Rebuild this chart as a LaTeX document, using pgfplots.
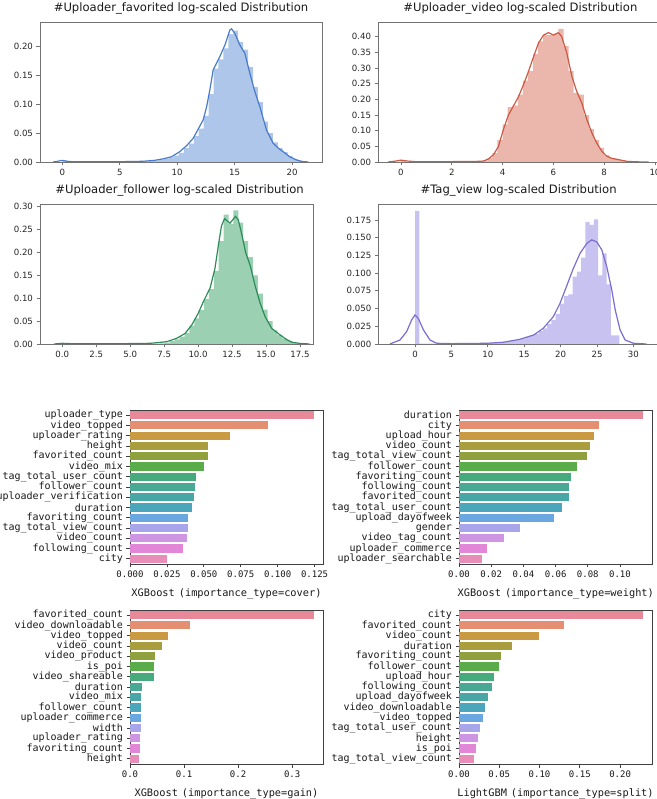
\documentclass[border=0pt]{standalone}
\usepackage{pgfplots}
\pgfplotsset{compat=1.18}
\usepackage{fontspec}
\setmainfont{DejaVu Sans}
\setmonofont{DejaVu Sans Mono}
\definecolor{c1}{HTML}{E8899A}
\definecolor{c2}{HTML}{E48F72}
\definecolor{c3}{HTML}{C99A42}
\definecolor{c4}{HTML}{A99D3D}
\definecolor{c5}{HTML}{8FA03C}
\definecolor{c6}{HTML}{5AAC4A}
\definecolor{c7}{HTML}{47AA7C}
\definecolor{c8}{HTML}{49A894}
\definecolor{c9}{HTML}{49A6A6}
\definecolor{c10}{HTML}{4BA5BB}
\definecolor{c11}{HTML}{6AA6E0}
\definecolor{c12}{HTML}{A8A5EA}
\definecolor{c13}{HTML}{CD95E2}
\definecolor{c14}{HTML}{E286D8}
\definecolor{c15}{HTML}{E78DB8}
\definecolor{f1}{HTML}{AEC6EA}\definecolor{l1}{HTML}{4A7BC8}
\definecolor{f2}{HTML}{EBB7AC}\definecolor{l2}{HTML}{CB5A45}
\definecolor{f3}{HTML}{9BD1B2}\definecolor{l3}{HTML}{2C8C58}
\definecolor{f4}{HTML}{C8C2F0}\definecolor{l4}{HTML}{7A6ED0}
\newcommand{\B}[3]{\addplot[xbar, bar shift=0pt, bar width=8.2pt, fill=#1, draw=none] coordinates {(#2,#3)};}
\pgfplotsset{
  every axis/.append style={/pgf/number format/assume math mode=true},
  dist/.style={
    scale only axis, height=140pt, ymin=0,
    axis line style={black!55, line width=0.8pt},
    tick style={black!55, line width=0.8pt},
    tick align=outside, major tick length=3.5pt,
    xtick pos=bottom, ytick pos=left,
    ticklabel style={font=\fontsize{8.6}{10}\selectfont, text=black!85},
    title style={font=\fontsize{11.6}{13}\selectfont, anchor=base, yshift=4.5pt, text=black!90},
    scaled y ticks=false, scaled x ticks=false,
  },
  hist/.style={ybar interval, draw=none, fill=#1},
  kde/.style={no marks, line width=1.2pt, color=#1},
  hbar/.style={
    scale only axis, height=154pt, xmin=0, ymin=-0.5, ymax=14.5,
    ytick={0,...,14},
    axis line style={black!75, line width=0.8pt},
    tick style={black!75, line width=0.8pt},
    tick align=outside, major tick length=3.5pt,
    xtick pos=bottom, ytick pos=left,
    y tick label style={font=\ttfamily\fontsize{10}{10}\selectfont, text=black!90},
    x tick label style={font=\ttfamily\fontsize{9}{10}\selectfont, text=black!90},
    xlabel style={font=\ttfamily\fontsize{10.3}{10}\selectfont, text=black!90, at={(axis description cs:0.5,0)}, anchor=base, yshift=-32.5pt},
    scaled x ticks=false,
  },
}
\begin{document}
\begin{tikzpicture}
\path[use as bounding box] (0pt,0pt) rectangle (656pt,799pt);
% ---------- P1 ----------
\begin{axis}[dist, at={(40pt,637pt)}, anchor=south west, width=282pt,
  xmin=-1.94, xmax=22.6, ymax=0.243,
  xtick={0,5,...,20}, ytick={0,0.05,...,0.2},
  y tick label style={/pgf/number format/.cd, fixed, fixed zerofill, precision=2},
  title={\#Uploader\_favorited log-scaled Distribution}]
\addplot[hist=f1] table {
0 0.003
0.43 0.0005
7.14 0.0012
7.57 0.002
8.00 0.003
8.43 0.004
8.86 0.006
9.29 0.008
9.72 0.011
10.15 0.016
10.58 0.024
11.01 0.032
11.44 0.045
11.87 0.058
12.30 0.08
12.73 0.118
13.16 0.162
13.59 0.178
14.02 0.197
14.45 0.222
14.88 0.228
15.31 0.208
15.74 0.195
16.17 0.165
16.60 0.13
17.03 0.104
17.46 0.07
17.89 0.05
18.32 0.034
18.75 0.024
19.18 0.017
19.61 0.01
20.04 0.005
20.47 0.002
20.90 0.0005
21.33 0
};
\addplot[kde=l1] coordinates {
(-0.8,0) (-0.4,0.0012) (0,0.0028) (0.4,0.0012) (1,0.0004) (3,0.0004) (5,0.0005) (7,0.0012) (8,0.0028) (8.8,0.0055) (9.5,0.009) (10.23,0.018) (10.8,0.028) (11.39,0.041) (12.26,0.073) (12.55,0.095) (12.84,0.125) (13.13,0.16) (13.71,0.183) (14.15,0.203) (14.58,0.229) (14.73,0.231) (15.02,0.223) (15.45,0.203) (15.89,0.1885) (16.32,0.154) (16.76,0.122) (17.19,0.096) (17.77,0.0555) (18.35,0.0324) (18.8,0.024) (19.22,0.0179) (19.8,0.009) (20.38,0.0035) (20.9,0.0008) (21.4,0)
};
\end{axis}
% ---------- P2 ----------
\begin{axis}[dist, at={(378.1pt,637pt)}, anchor=south west, width=284.5pt,
  xmin=-0.9, xmax=10.3, ymax=0.447,
  xtick={0,2,...,10}, ytick={0,0.05,...,0.4},
  y tick label style={/pgf/number format/.cd, fixed, fixed zerofill, precision=2},
  title={\#Uploader\_video log-scaled Distribution}]
\addplot[hist=f2] table {
0 0.006
0.19 0.0005
3.0 0.002
3.2 0.004
3.4 0.012
3.6 0.028
3.8 0.07
4.0 0.12
4.2 0.175
4.4 0.18
4.6 0.215
4.8 0.26
5.0 0.29
5.2 0.345
5.4 0.385
5.6 0.405
5.8 0.405
6.0 0.41
6.2 0.425
6.4 0.37
6.6 0.29
6.8 0.22
7.0 0.215
7.2 0.15
7.4 0.105
7.6 0.07
7.8 0.045
8.0 0.022
8.2 0.012
8.4 0.01
8.6 0.005
8.8 0.002
9.0 0
};
\addplot[kde=l2] coordinates {
(-0.5,0) (-0.2,0.003) (0,0.006) (0.25,0.003) (0.6,0.001) (1.5,0.0008) (3,0.002) (3.25,0.003) (3.44,0.0095) (3.64,0.023) (3.84,0.05) (4.03,0.103) (4.23,0.15) (4.43,0.179) (4.63,0.209) (4.82,0.246) (5.02,0.289) (5.22,0.336) (5.41,0.379) (5.61,0.405) (5.81,0.413) (6.0,0.405) (6.2,0.413) (6.33,0.4) (6.53,0.347) (6.73,0.273) (6.92,0.225) (7.12,0.188) (7.32,0.135) (7.52,0.092) (7.71,0.06) (7.91,0.034) (8.11,0.018) (8.3,0.0117) (8.57,0.0074) (8.9,0.002) (9.3,0.0005) (9.75,0)
};
\end{axis}
% ---------- P3 ----------
\begin{axis}[dist, at={(40pt,455pt)}, anchor=south west, width=273pt,
  xmin=-1.64, xmax=18.46, ymax=0.306,
  xtick={0,2.5,...,17.5}, ytick={0,0.05,...,0.3},
  x tick label style={/pgf/number format/.cd, fixed, fixed zerofill, precision=1},
  y tick label style={/pgf/number format/.cd, fixed, fixed zerofill, precision=2},
  title style={xshift=3pt},
  title={\#Uploader\_follower log-scaled Distribution}]
\addplot[hist=f3] table {
0 0.0015
0.36 0.0004
6.84 0.001
7.2 0.0015
7.56 0.003
7.92 0.006
8.28 0.01
8.64 0.016
9.00 0.024
9.36 0.04
9.72 0.056
10.08 0.074
10.44 0.098
10.80 0.12
11.16 0.16
11.52 0.225
11.88 0.283
12.24 0.262
12.60 0.292
12.96 0.265
13.32 0.225
13.68 0.19
14.04 0.15
14.40 0.11
14.76 0.075
15.12 0.05
15.48 0.03
15.84 0.02
16.20 0.012
16.56 0.006
16.92 0.002
17.28 0.001
17.64 0
};
\addplot[kde=l3] coordinates {
(-0.6,0) (-0.2,0.001) (0,0.0015) (0.3,0.001) (1,0.0005) (4,0.0005) (6.5,0.0015) (7.69,0.005) (8.42,0.0124) (9.04,0.023) (9.53,0.0415) (10.01,0.067) (10.38,0.092) (10.88,0.122) (11.24,0.165) (11.49,0.215) (11.72,0.258) (11.95,0.274) (12.35,0.264) (12.75,0.279) (12.95,0.272) (13.2,0.242) (13.5,0.2) (13.85,0.17) (14.2,0.127) (14.56,0.09) (14.93,0.06) (15.42,0.034) (16.03,0.02) (16.5,0.01) (16.9,0.004) (17.5,0.0012) (18.2,0)
};
\end{axis}
% ---------- P4 ----------
\begin{axis}[dist, at={(378.3pt,455pt)}, anchor=south west, width=280.6pt,
  xmin=-5.04, xmax=33.5, ymax=0.1976,
  xtick={0,5,...,30}, ytick={0,0.025,...,0.175},
  y tick label style={/pgf/number format/.cd, fixed, fixed zerofill, precision=3},
  title={\#Tag\_view log-scaled Distribution}]
\addplot[hist=f4] table {
0 0.188
0.585 0.0004
5.85 0.0008
9.36 0.0015
11.7 0.003
12.87 0.004
13.455 0.005
14.04 0.006
14.625 0.008
15.21 0.01
15.795 0.012
16.38 0.014
16.965 0.018
17.55 0.022
18.135 0.028
18.72 0.034
19.305 0.042
19.89 0.057
20.475 0.068
21.06 0.07
21.645 0.095
22.23 0.102
22.815 0.122
23.4 0.172
23.985 0.168
24.57 0.176
25.155 0.097
25.74 0.128
26.325 0.084
26.91 0.012
27.495 0.012
28.08 0
};
\addplot[kde=l4] coordinates {
(-3.44,0) (-2.06,0.0056) (-1.15,0.0174) (-0.46,0.034) (0,0.041) (0.46,0.036) (1.15,0.02) (2.06,0.0056) (2.98,0.001) (5,0.0005) (9.85,0.001) (12.1,0.0024) (14.4,0.0066) (16.3,0.0127) (17.6,0.022) (19.0,0.0386) (19.9,0.057) (20.8,0.081) (21.76,0.107) (22.67,0.128) (23.6,0.142) (24.28,0.147) (24.97,0.144) (25.65,0.133) (26.34,0.109) (27.03,0.076) (27.5,0.048) (28.17,0.0198) (28.86,0.0056) (30,0.001) (31.8,0)
};
\end{axis}
% ---------- P5 cover ----------
\begin{axis}[hbar, at={(130pt,235pt)}, anchor=south west, width=193pt,
  xmax=0.1307, xtick={0,0.025,...,0.125},
  x tick label style={/pgf/number format/.cd, fixed, fixed zerofill, precision=3},
  yticklabels={city, following\_count, video\_count, tag\_total\_view\_count, favoriting\_count, duration, uploader\_verification, follower\_count, tag\_total\_user\_count, video\_mix, favorited\_count, height, uploader\_rating, video\_topped, uploader\_type},
  xlabel={XGBoost\hspace{4pt}(importance\_type=cover)\hspace{4pt}}]
\B{c1}{0.1245}{14}
\B{c2}{0.0935}{13}
\B{c3}{0.068}{12}
\B{c4}{0.0527}{11}
\B{c5}{0.0527}{10}
\B{c6}{0.0502}{9}
\B{c7}{0.045}{8}
\B{c8}{0.0439}{7}
\B{c9}{0.0432}{6}
\B{c10}{0.0419}{5}
\B{c11}{0.0394}{4}
\B{c12}{0.0394}{3}
\B{c13}{0.0387}{2}
\B{c14}{0.0356}{1}
\B{c15}{0.0252}{0}
\end{axis}
% ---------- P6 weight ----------
\begin{axis}[hbar, at={(459pt,235pt)}, anchor=south west, width=193.5pt,
  xmax=0.1202, xtick={0,0.02,...,0.1},
  x tick label style={/pgf/number format/.cd, fixed, fixed zerofill, precision=2},
  yticklabels={uploader\_searchable, uploader\_commerce, video\_tag\_count, gender, upload\_dayofweek, tag\_total\_user\_count, favorited\_count, following\_count, favoriting\_count, follower\_count, tag\_total\_view\_count, video\_count, upload\_hour, city, duration},
  xlabel={XGBoost\hspace{4pt}(importance\_type=weight)\hspace{4pt}}]
\B{c1}{0.1145}{14}
\B{c2}{0.0867}{13}
\B{c3}{0.0838}{12}
\B{c4}{0.0816}{11}
\B{c5}{0.0793}{10}
\B{c6}{0.0733}{9}
\B{c7}{0.0698}{8}
\B{c8}{0.0681}{7}
\B{c9}{0.0681}{6}
\B{c10}{0.064}{5}
\B{c11}{0.0592}{4}
\B{c12}{0.0377}{3}
\B{c13}{0.0277}{2}
\B{c14}{0.0172}{1}
\B{c15}{0.0143}{0}
\end{axis}
% ---------- P7 gain ----------
\begin{axis}[hbar, at={(130pt,35pt)}, anchor=south west, width=193pt,
  xmax=0.357, xtick={0,0.1,...,0.3},
  x tick label style={/pgf/number format/.cd, fixed, fixed zerofill, precision=1},
  yticklabels={height, favoriting\_count, uploader\_rating, width, uploader\_commerce, follower\_count, video\_mix, duration, video\_shareable, is\_poi, video\_product, video\_count, video\_topped, video\_downloadable, favorited\_count},
  xlabel={XGBoost\hspace{4pt}(importance\_type=gain)\hspace{4pt}}]
\B{c1}{0.340}{14}
\B{c2}{0.1107}{13}
\B{c3}{0.0707}{12}
\B{c4}{0.0584}{11}
\B{c5}{0.0461}{10}
\B{c6}{0.0449}{9}
\B{c7}{0.0449}{8}
\B{c8}{0.0227}{7}
\B{c9}{0.0203}{6}
\B{c10}{0.0203}{5}
\B{c11}{0.0203}{4}
\B{c12}{0.0203}{3}
\B{c13}{0.0184}{2}
\B{c14}{0.0184}{1}
\B{c15}{0.0172}{0}
\end{axis}
% ---------- P8 split ----------
\begin{axis}[hbar, at={(459pt,35pt)}, anchor=south west, width=193pt,
  xmax=0.2396, xtick={0,0.05,...,0.2},
  x tick label style={/pgf/number format/.cd, fixed, fixed zerofill, precision=2},
  yticklabels={tag\_total\_view\_count, is\_poi, height, tag\_total\_user\_count, video\_topped, video\_downloadable, upload\_dayofweek, following\_count, upload\_hour, follower\_count, favoriting\_count, duration, video\_count, favorited\_count, city},
  xlabel={LightGBM\hspace{4pt}(importance\_type=split)\hspace{4pt}}]
\B{c1}{0.2282}{14}
\B{c2}{0.1304}{13}
\B{c3}{0.0998}{12}
\B{c4}{0.0663}{11}
\B{c5}{0.0518}{10}
\B{c6}{0.0497}{9}
\B{c7}{0.0435}{8}
\B{c8}{0.0414}{7}
\B{c9}{0.0356}{6}
\B{c10}{0.0319}{5}
\B{c11}{0.0298}{4}
\B{c12}{0.0261}{3}
\B{c13}{0.024}{2}
\B{c14}{0.0215}{1}
\B{c15}{0.019}{0}
\end{axis}
\end{tikzpicture}
\end{document}
